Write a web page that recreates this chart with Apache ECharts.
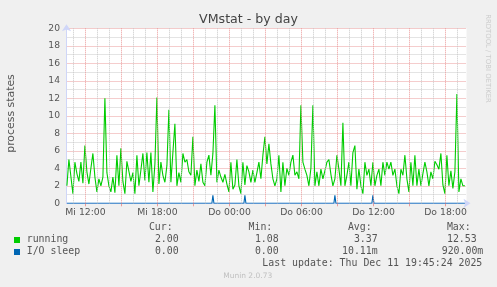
<!DOCTYPE html>
<html><head><meta charset="utf-8">
<script src="https://cdn.jsdelivr.net/npm/echarts@6/dist/echarts.min.js"></script>
<style>html,body{margin:0;padding:0;background:#f0f0f0;}#c{width:497px;height:287px;}</style>
</head><body><div id="c"></div>
<script>
// time in minutes since Wed (Mi) 00:00
const startMinute = 627;
const stepMinutes = 10;
const running = [
  2.0,5.0,4.9,1.1,4.7,3.4,2.5,4.7,2.3,6.6,3.6,2.2,4.0,5.7,3.0,1.3,2.8,2.0,3.0,12.0,3.5,2.0,1.3,3.0,1.2,5.5,2.0,6.3,2.5,1.1,4.8,5.0,2.5,3.5,
  1.1,5.5,2.0,3.8,5.7,2.6,5.8,2.4,5.8,1.3,4.5,12.1,2.2,4.7,3.2,2.4,4.3,10.7,2.4,5.8,9.1,2.0,3.5,2.4,5.7,4.7,5.0,3.6,3.2,7.6,2.0,3.8,2.5,4.5,
  2.4,2.0,4.7,5.5,3.2,5.7,11.2,2.4,3.8,3.0,2.4,3.3,2.2,1.3,4.7,1.6,2.1,5.0,2.0,1.1,4.7,2.1,4.3,3.6,2.4,3.8,2.4,3.5,4.7,2.8,5.5,7.6,4.5,6.8,
  4.5,2.8,2.0,2.8,5.5,1.3,4.7,2.0,4.0,3.2,4.7,5.5,3.2,3.6,2.8,11.2,4.7,3.9,3.2,2.0,4.0,11.2,2.0,3.6,2.0,3.9,2.8,3.7,4.7,5.0,3.3,2.0,2.8,5.5,
  3.9,2.0,9.2,2.0,3.2,4.7,2.0,5.8,6.6,1.6,3.9,2.0,1.1,4.7,3.2,3.9,2.0,4.7,2.0,3.2,3.9,2.0,4.7,3.2,4.7,3.9,4.7,3.2,3.9,2.0,1.1,3.9,3.2,5.5,
  2.8,1.3,4.7,2.0,5.5,2.0,3.9,2.0,3.4,4.7,3.6,2.0,3.6,2.8,4.8,4.4,3.9,5.7,2.1,1.1,5.5,2.0,3.7,1.7,3.6,12.5,1.3,2.8,2.0,2.0
];
const ioSleepTimes  = [627,1352,1357,1362,1512,1517,1522,1962,1967,1972,2152,2157,2162,2617];
const ioSleepValues = [0,0,0.92,0,0,0.92,0,0,0.92,0,0,0.92,0,0];
const xTickMinutes = [720,1080,1440,1800,2160,2520];
const xTickLabels  = ['Mi 12:00','Mi 18:00','Do 00:00','Do 06:00','Do 12:00','Do 18:00'];
const seriesNames = ['running','I/O sleep'];
const seriesColors = ['#00cc00','#0066b3'];
const legendHeads = ['Cur:','Min:','Avg:','Max:'];
const legendCur = ['2.00','0.00'];
const legendMin = ['1.08','0.00'];
const legendAvg = ['3.37','10.11m'];
const legendMax = ['12.53','920.00m'];
const titleText = 'VMstat - by day';
const yName = 'process states';
const lastUpdate = 'Last update: Thu Dec 11 19:45:24 2025';
const footer = 'Munin 2.0.73';
const watermark = 'RRDTOOL / TOBI OETIKER';

const runningData = running.map((v,i)=>[startMinute + i*stepMinutes, v]);
const ioData = ioSleepTimes.map((t,i)=>[t, ioSleepValues[i]]);

const RED = '#eb9a9a', GRAY = '#c8c8c8', AXIS = '#cfd6f8';
const vLines = [];
for (let m = 660; m <= 2580; m += 60) {
  vLines.push({xAxis: m, lineStyle: {color: (m % 180 === 0) ? RED : GRAY, type: [1,1], width: 1}});
}
const redTicks = [];
for (let m = 720; m <= 2580; m += 180) redTicks.push(m);

const SANS = 'DejaVu Sans', MONO = 'DejaVu Sans Mono';
const graphics = [
  {type:'text', x:248.5, y:19.5, style:{text:titleText, font:'12.6px '+SANS, fill:'#444', textAlign:'center', textVerticalAlign:'middle'}},
  {type:'text', x:11, y:113.5, rotation:Math.PI/2, style:{text:yName, font:'10.9px '+SANS, fill:'#555', textAlign:'center', textVerticalAlign:'middle'}},
  {type:'text', x:488, y:58.5, rotation:-Math.PI/2, style:{text:watermark, font:'6.9px '+SANS, fill:'#cccccc', textAlign:'center', textVerticalAlign:'middle'}},
  {type:'text', x:247.7, y:276, style:{text:footer, font:'7.5px '+SANS, fill:'#c0c0c0', textAlign:'center', textVerticalAlign:'middle'}},
  {type:'text', x:482.3, y:263.4, style:{text:lastUpdate, font:'9.9px '+MONO, fill:'#555', textAlign:'right', textVerticalAlign:'middle'}}
];
const headRight = [172.7, 272.3, 371.7, 470.7];
legendHeads.forEach((h,i)=>graphics.push({type:'text', x:headRight[i], y:227.9, style:{text:h, font:'9.9px '+MONO, fill:'#555', textAlign:'right', textVerticalAlign:'middle'}}));
const rowY = [239.7, 251.7];
const valRight = [[178.7,278.7,377.7,476.7],[178.7,278.7,377.7,483.3]];
seriesNames.forEach((n,r)=>{
  graphics.push({type:'rect', shape:{x:14, y:rowY[r]-2.7, width:6, height:6}, style:{fill:seriesColors[r]}});
  graphics.push({type:'text', x:26.7, y:rowY[r], style:{text:n, font:'9.9px '+MONO, fill:'#555', textAlign:'left', textVerticalAlign:'middle'}});
  [legendCur[r], legendMin[r], legendAvg[r], legendMax[r]].forEach((v,c)=>{
    graphics.push({type:'text', x:valRight[r][c], y:rowY[r], style:{text:v, font:'9.9px '+MONO, fill:'#555', textAlign:'right', textVerticalAlign:'middle'}});
  });
});

const chart = echarts.init(document.getElementById('c'), null, {renderer:'canvas'});
chart.setOption({
  animation: false,
  backgroundColor: '#f0f0f0',
  grid: {left:66.5, top:28.3, width:400, height:175, show:true, backgroundColor:'#ffffff', borderWidth:0},
  xAxis: {
    type:'value', min:625, max:2625,
    axisLine:{show:true, lineStyle:{color:AXIS, width:1}, symbol:['none','arrow'], symbolSize:[7,7], symbolOffset:[0,4]},
    axisTick:{show:true, customValues:redTicks, length:3, lineStyle:{color:RED}},
    axisLabel:{customValues:xTickMinutes, formatter:(v)=>xTickLabels[xTickMinutes.indexOf(v)], color:'#555', fontFamily:SANS, fontSize:9.3, margin:5},
    splitLine:{show:false}
  },
  yAxis: {
    type:'value', min:0, max:20, interval:1,
    axisLine:{show:true, lineStyle:{color:AXIS, width:1}, symbol:['none','arrow'], symbolSize:[7,7], symbolOffset:[0,4]},
    axisTick:{show:false},
    axisLabel:{formatter:(v)=> (v % 2 === 0 ? String(v) : ''), color:'#555', fontFamily:SANS, fontSize:9.2, margin:6.5},
    splitLine:{show:true, lineStyle:{color:[RED, GRAY], type:[1,1], width:1}}
  },
  series: [
    {type:'line', data:[], z:1, silent:true,
     markLine:{silent:true, symbol:['none','none'], label:{show:false}, emphasis:{disabled:true}, animation:false, data:vLines}},
    {name:seriesNames[0], type:'line', data:runningData, showSymbol:false, z:3,
     lineStyle:{color:seriesColors[0], width:1.1}, itemStyle:{color:seriesColors[0]}, emphasis:{disabled:true}},
    {name:seriesNames[1], type:'line', data:ioData, showSymbol:false, z:4,
     lineStyle:{color:seriesColors[1], width:1.1}, itemStyle:{color:seriesColors[1]}, emphasis:{disabled:true}}
  ],
  graphic: graphics
});
</script></body></html>
